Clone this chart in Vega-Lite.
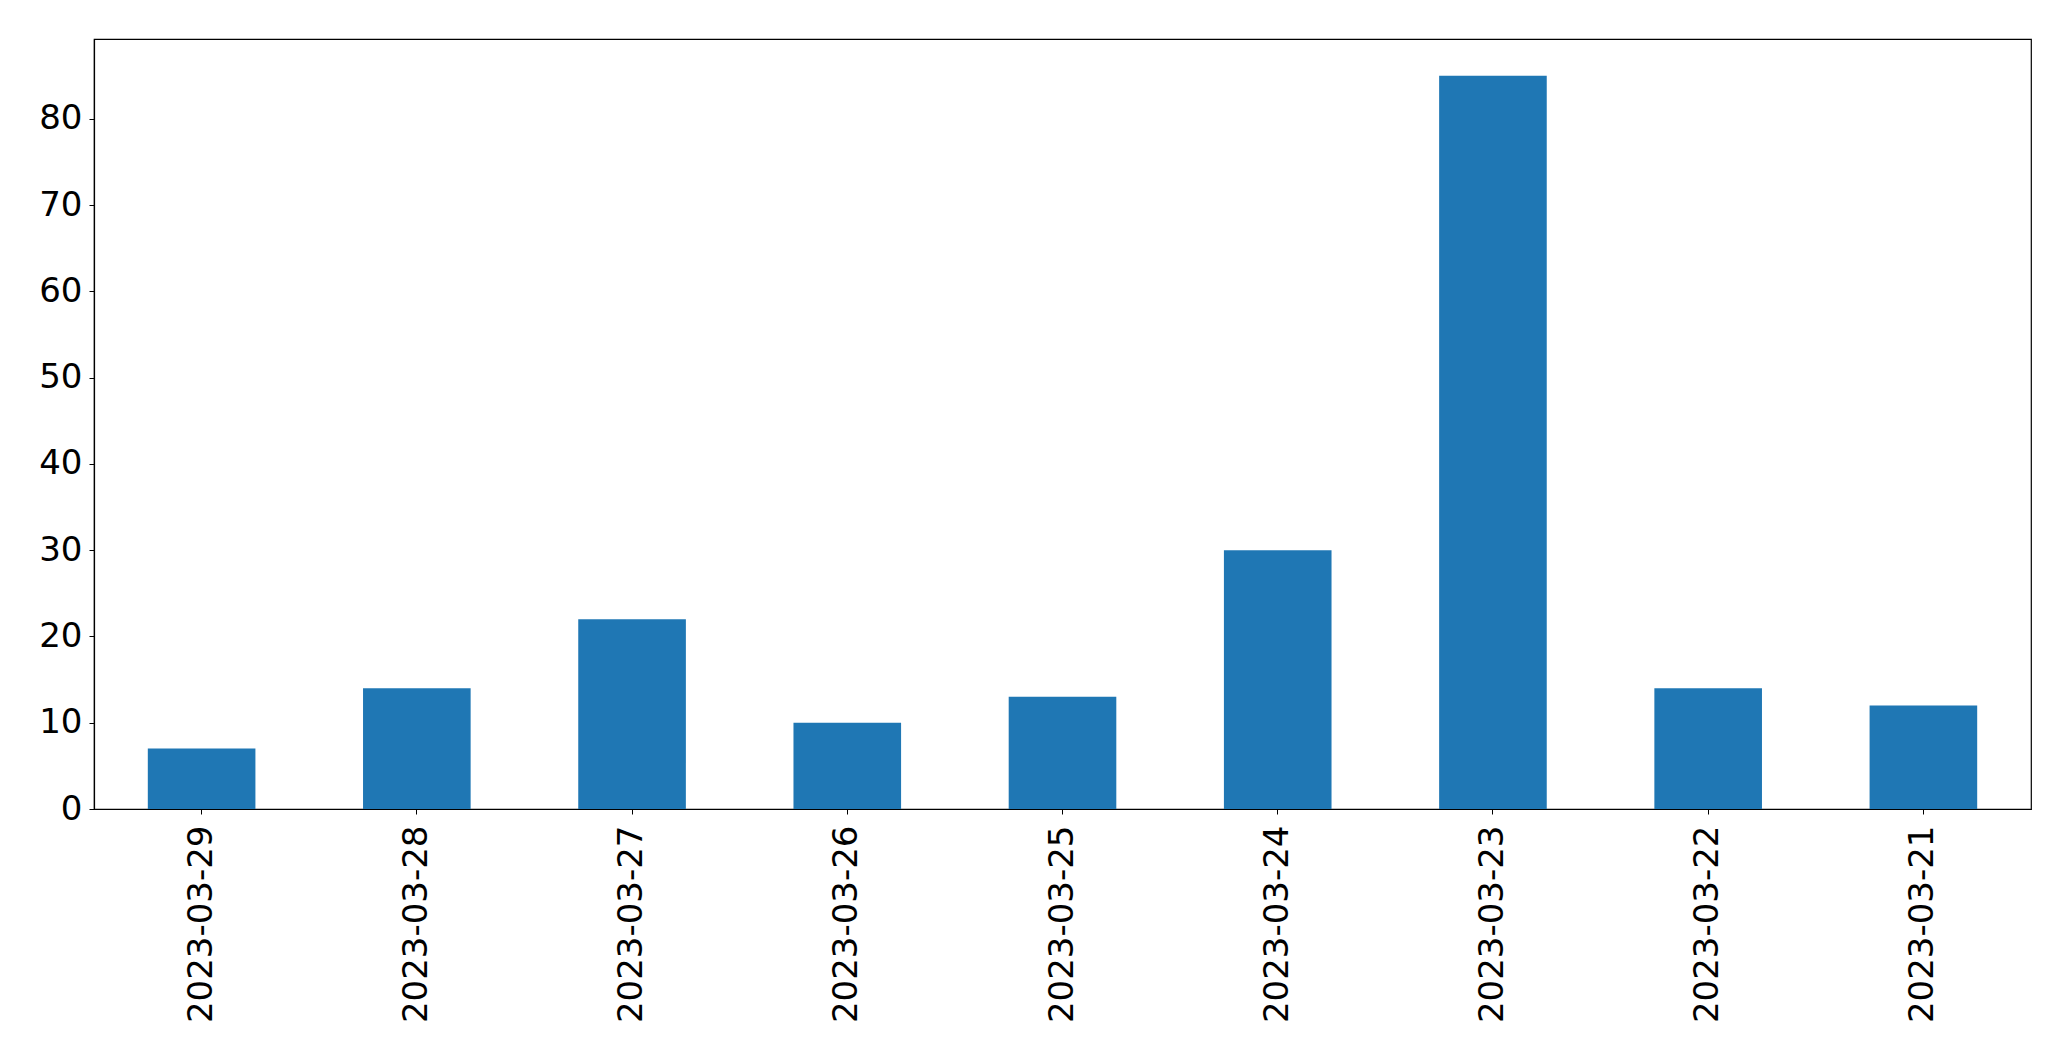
{
  "$schema": "https://vega.github.io/schema/vega-lite/v6.json",
  "autosize": "none",
  "width": 1937,
  "height": 770,
  "padding": {"left": 94, "top": 39, "right": 40, "bottom": 252},
  "background": "white",
  "config": {
    "view": {"stroke": "black", "strokeWidth": 1.2},
    "font": "DejaVu Sans"
  },
  "data": {
    "values": [
      {"date": "2023-03-29", "count": 7},
      {"date": "2023-03-28", "count": 14},
      {"date": "2023-03-27", "count": 22},
      {"date": "2023-03-26", "count": 10},
      {"date": "2023-03-25", "count": 13},
      {"date": "2023-03-24", "count": 30},
      {"date": "2023-03-23", "count": 85},
      {"date": "2023-03-22", "count": 14},
      {"date": "2023-03-21", "count": 12}
    ]
  },
  "mark": {"type": "bar", "color": "#1f77b4"},
  "encoding": {
    "x": {
      "field": "date",
      "type": "nominal",
      "sort": null,
      "scale": {"paddingInner": 0.5, "paddingOuter": 0.25},
      "axis": {
        "title": null,
        "labelAngle": -90,
        "labelAlign": "right",
        "labelBaseline": "middle",
        "labelFontSize": 34,
        "labelLimit": 0,
        "labelColor": "black",
        "labelFont": "DejaVu Sans",
        "labelPadding": 11,
        "tickColor": "black",
        "tickSize": 5,
        "domainColor": "black",
        "domainWidth": 1.2
      }
    },
    "y": {
      "field": "count",
      "type": "quantitative",
      "scale": {"domain": [0, 89.25], "nice": false},
      "axis": {
        "title": null,
        "values": [0, 10, 20, 30, 40, 50, 60, 70, 80],
        "grid": false,
        "labelFontSize": 34,
        "labelColor": "black",
        "labelFont": "DejaVu Sans",
        "labelPadding": 7,
        "tickColor": "black",
        "tickSize": 5,
        "domainColor": "black",
        "domainWidth": 1.2
      }
    }
  }
}
